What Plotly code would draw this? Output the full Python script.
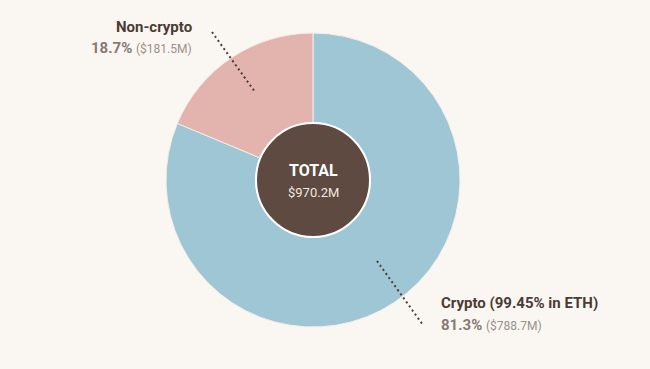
import plotly.graph_objects as go

labels = ["Crypto", "Non-crypto"]
values = [788.7, 181.5]
colors = ["#9fc6d4", "#e2b4ad"]
total_label = "$970.2M"

W, H = 650, 369
def px(x): return x / W
def py(y): return 1 - y / H

cx, cy, r = 313, 180, 147
fig = go.Figure()
fig.add_trace(go.Pie(
    labels=labels, values=values, sort=False, direction="clockwise", rotation=0,
    hole=0.39, marker=dict(colors=colors, line=dict(color="#f4eee8", width=1)),
    textinfo="none", hoverinfo="label+value+percent", showlegend=False,
    domain=dict(x=[px(cx - r), px(cx + r)], y=[py(cy + r), py(cy - r)]),
))
# center circle
rc = 57
fig.add_shape(type="circle", xref="paper", yref="paper",
              x0=px(cx - rc), x1=px(cx + rc), y0=py(cy + rc), y1=py(cy - rc),
              fillcolor="#5e4a40", line=dict(color="#ffffff", width=2))
# leader lines
for (x0, y0, x1, y1) in [(212, 32, 255, 92), (377, 261, 423, 325)]:
    fig.add_shape(type="line", xref="paper", yref="paper",
                  x0=px(x0), y0=py(y0), x1=px(x1), y1=py(y1),
                  line=dict(color="#4a3b35", width=2, dash="2px,3px"))

total = sum(values)
pcts = [v / total * 100 for v in values]
font = "Roboto"
dark = "#4a3b35"

def ann(x, y, text, size, color, xanchor="center"):
    fig.add_annotation(x=px(x), y=py(y), xref="paper", yref="paper", xanchor=xanchor,
                       yanchor="middle", text=text, showarrow=False,
                       font=dict(family=font, size=size, color=color))

ann(cx, 170, "<b>TOTAL</b>", 16, "#ffffff")
ann(cx, 192, total_label, 13, "#efe8e2")
ann(194, 27, "<b>Non-crypto</b>", 15, dark, "right")
ann(194, 48, f"<b>{pcts[1]:.1f}%</b> <span style='font-size:12px;color:#9a908c'>(${values[1]:.1f}M)</span>",
    15, "#857a76", "right")
ann(439, 303, "<b>Crypto (99.45% in ETH)</b>", 15, dark, "left")
ann(439, 325, f"<b>{pcts[0]:.1f}%</b> <span style='font-size:12px;color:#9a908c'>(${values[0]:.1f}M)</span>",
    15, "#857a76", "left")

fig.update_layout(width=W, height=H, margin=dict(l=0, r=0, t=0, b=0),
                  paper_bgcolor="#faf6f1", plot_bgcolor="#faf6f1")
fig.write_html("out.html", config={"displayModeBar": False},
               post_script="document.body.style.margin='0';document.body.style.overflow='hidden';document.body.style.background='#faf6f1';")
